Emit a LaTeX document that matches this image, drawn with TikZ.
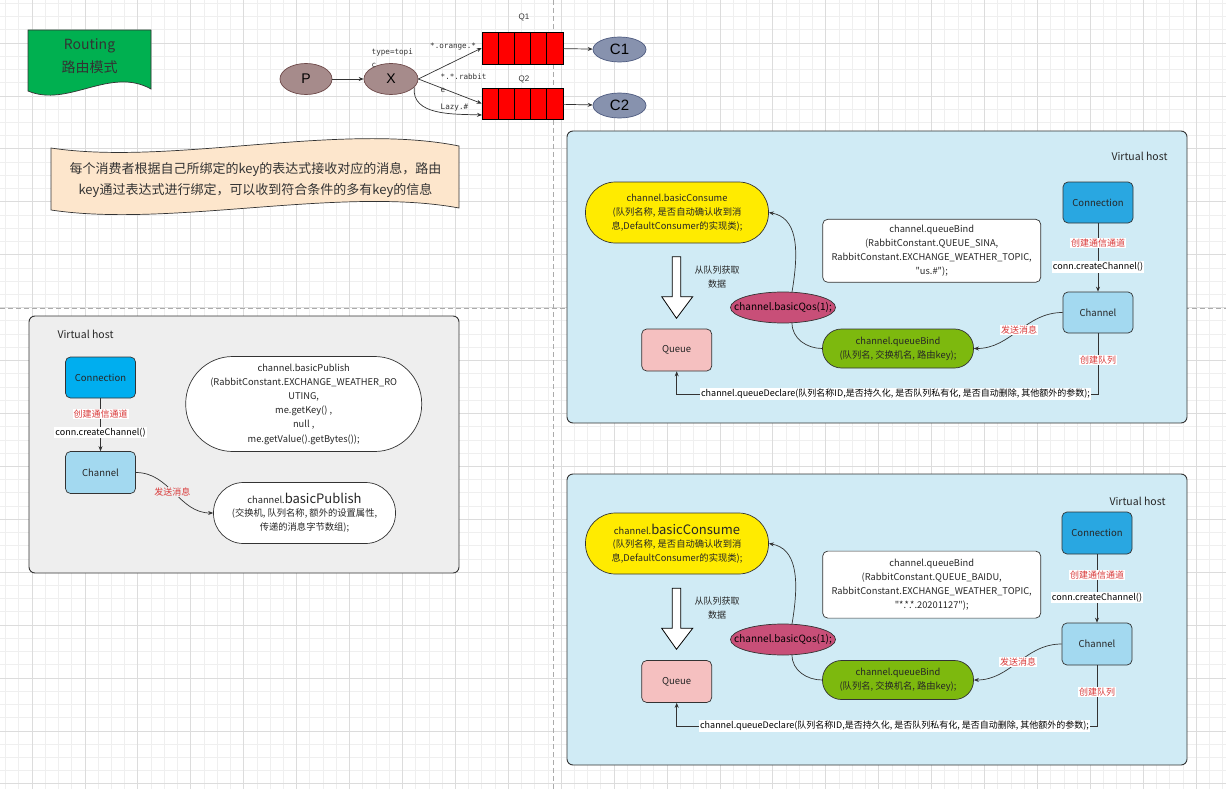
\documentclass[tikz,border=0pt]{standalone}
\usepackage{fontspec}
\setmainfont{Noto Sans CJK SC}
\newfontfamily\arialf{Liberation Sans}
\newfontfamily\monof{DejaVu Sans Mono}
\usetikzlibrary{arrows.meta,shapes.geometric,calc}
\definecolor{gridminor}{HTML}{EFEFEF}
\definecolor{gridmajor}{HTML}{DCDCDC}
\definecolor{dashc}{HTML}{ABABAB}
\definecolor{darkc}{HTML}{333333}
\definecolor{linec}{HTML}{333333}
\definecolor{textc}{HTML}{262626}
\definecolor{flagG}{HTML}{00B050}
\definecolor{tapeC}{HTML}{FDE6CC}
\definecolor{vhGray}{HTML}{EEEEEE}
\definecolor{vhBlue}{HTML}{D0EBF5}
\definecolor{connA}{HTML}{00AEEF}
\definecolor{connB}{HTML}{29A7E1}
\definecolor{chanC}{HTML}{A3D9F0}
\definecolor{queueC}{HTML}{F5C0C0}
\definecolor{yellowC}{HTML}{FFEB00}
\definecolor{greenC}{HTML}{7DB90E}
\definecolor{qosC}{HTML}{C84F78}
\definecolor{redT}{HTML}{D93A3A}
\definecolor{pxC}{HTML}{A68B8B}
\definecolor{pxD}{HTML}{6E4A4A}
\definecolor{cC}{HTML}{8792AE}
\definecolor{cD}{HTML}{4E5B80}
\tikzset{
  arr/.style={draw=linec, line width=0.7pt, -{Stealth[length=5pt,width=4pt]}},
  ln/.style={draw=linec, line width=0.7pt},
  codef/.style={font=\fontsize{9.3}{14.2}\selectfont, align=center, text=textc},
  boxc/.style={draw=darkc, line width=0.7pt, rounded corners=5pt, minimum width=70pt, minimum height=41pt, inner sep=0pt, font=\fontsize{9.5}{12}\selectfont, text=textc},
  stad/.style={draw=darkc, line width=0.7pt, inner sep=0pt, codef},
  redlbl/.style={fill=white, text=redT, font=\fontsize{9}{11}\selectfont, inner sep=1pt},
  wlbl/.style={fill=white, text=black, font=\fontsize{9}{11}\selectfont, inner sep=1pt},
  vhlbl/.style={font=\fontsize{10.5}{12}\selectfont, text=textc},
  vhbox/.style={draw=darkc, line width=0.9pt, rounded corners=6pt},
  smallmono/.style={font=\monof\fontsize{7.6}{12.5}\selectfont, text=darkc, align=left, inner sep=0pt},
  qrect/.style={draw=black, fill=red, line width=0.6pt, minimum width=81pt, minimum height=32pt, inner sep=0pt},
  dnarrow/.style={fill=white, draw=black, line width=0.8pt},
  qostxt/.style={font=\fontsize{10}{12}\selectfont, text=black},
}
\begin{document}
\begin{tikzpicture}[x=1pt,y=-1pt]
\useasboundingbox (0,0) rectangle (1226,789);
\fill[white] (0,0) rectangle (1226,789);
% grid
\foreach \k in {-2,...,90} \draw[gridminor, line width=0.8pt] ({32+\k*13.23},0) -- ({32+\k*13.23},789);
\foreach \k in {-3,...,56} \draw[gridminor, line width=0.8pt] (0,{43+\k*13.23}) -- (1226,{43+\k*13.23});
\foreach \k in {0,...,22} \draw[gridmajor, line width=0.8pt] ({32+\k*52.92},0) -- ({32+\k*52.92},789);
\foreach \k in {0,...,14} \draw[gridmajor, line width=0.8pt] (0,{43+\k*52.92}) -- (1226,{43+\k*52.92});
% page break lines
\draw[dashc, line width=0.8pt, dash pattern=on 5pt off 3pt] (553,0) -- (553,789);
\draw[dashc, line width=0.8pt, dash pattern=on 5pt off 3pt] (0,308) -- (1226,308);

% flag
\filldraw[fill=flagG, draw=darkc, line width=0.7pt] (28,30) -- (151,30) -- (151,89) .. controls (110,66) and (68,108) .. (28,91) -- cycle;
\node[align=center, font=\fontsize{14}{22.5}\selectfont, text=darkc] (flagtxt) at (89.5,56) {Routing\\路由模式};

% P X queues
\node[ellipse, fill=pxC, draw=pxD, line width=0.7pt, minimum width=52pt, minimum height=31pt, inner sep=0pt, font=\arialf\fontsize{14}{14}\selectfont] (P) at (306,79) {P};
\node[ellipse, fill=pxC, draw=pxD, line width=0.7pt, minimum width=54pt, minimum height=31pt, inner sep=0pt, font=\arialf\fontsize{14}{14}\selectfont] (X) at (391,79) {X};
\node[qrect] (Q1box) at (522.5,48) {};
\node[qrect, minimum height=31pt] (Q2box) at (522.5,103.5) {};
\foreach \xx in {498.5,514.5,530.5,546.5} {
  \draw[black, line width=0.6pt] (\xx,32) -- (\xx,64);
  \draw[black, line width=0.6pt] (\xx,88) -- (\xx,119);
}
\node[ellipse, fill=cC, draw=cD, line width=0.7pt, minimum width=53pt, minimum height=25pt, inner sep=0pt, font=\arialf\fontsize{15}{15}\selectfont] (C1) at (619.5,49.5) {C1};
\node[ellipse, fill=cC, draw=cD, line width=0.7pt, minimum width=53pt, minimum height=25pt, inner sep=0pt, font=\arialf\fontsize{15}{15}\selectfont] (C2) at (619.5,105.5) {C2};
\node[font=\arialf\fontsize{8}{8}\selectfont, text=darkc] (q1lbl) at (524,17) {Q1};
\node[font=\arialf\fontsize{8}{8}\selectfont, text=darkc] (q2lbl) at (524,79) {Q2};
\coordinate (q2low) at (482,115);
\draw[arr] (P) -- (X);
\draw[arr] (X.east) -- (Q1box.west);
\draw[arr] (X.east) -- (Q2box.west);
\draw[arr] (X.-20) to[out=-95,in=178] (q2low);
\draw[arr] (Q1box) -- (C1);
\draw[arr] (Q2box) -- (C2);
\node[smallmono, anchor=west] (lorange) at (430,46) {*.orange.*};
\node[smallmono, anchor=north west] (ltype) at (371.5,49) {type=topi\\c};
\node[smallmono, anchor=north west] (lrabbit) at (440.5,74) {*.*.rabbit\\e};
\node[smallmono, anchor=west] (llazy) at (440.5,108) {Lazy.\#};

% tape banner
\filldraw[fill=tapeC, draw=darkc, line width=0.7pt] (51,148) .. controls (170,166) and (340,122) .. (459,146) -- (459,208) .. controls (340,186) and (170,228) .. (51,210) -- cycle;
\node[align=center, font=\fontsize{13}{21.4}\selectfont, text=darkc] (tapetxt) at (255.5,180) {每个消费者根据自己所绑定的key的表达式接收对应的消息，路由\\key通过表达式进行绑定，可以收到符合条件的多有key的信息};

% ---------------- left virtual host
\draw[vhbox, fill=vhGray] (29,316) rectangle (459,573);
\node[vhlbl, anchor=west] (vhLlbl) at (54,334) {Virtual host};
\node[boxc, fill=connA] (connL) at (100.5,377.5) {Connection};
\node[boxc, fill=chanC, minimum height=42pt] (chanL) at (100.5,472.5) {Channel};
\node[stad, fill=white, minimum width=236pt, minimum height=95pt, rounded corners=47pt] (pubA) at (303.7,404) {channel.basicPublish\\(RabbitConstant.EXCHANGE\_WEATHER\_RO\\UTING,\\me.getKey() ,\\null ,\\me.getValue().getBytes());};
\node[stad, fill=white, minimum width=182pt, minimum height=61pt, rounded corners=30pt] (pubB) at (304.5,513) {channel.{\fontsize{13}{14}\selectfont basicPublish}\\[-1pt](交换机, 队列名称, 额外的设置属性,\\传递的消息字节数组);};
\draw[arr] (connL) -- (chanL);
\node[redlbl] (lL1) at (100.5,414.3) {创建通信通道};
\node[wlbl] (lL2) at (100.5,432.3) {conn.createChannel()};
\draw[arr] (chanL.east) to[out=0,in=180] (pubB.west);
\node[redlbl, fill=vhGray] (lL3) at (172.3,492) {发送消息};

% ---------------- top right virtual host
\draw[vhbox, fill=vhBlue] (567,131) rectangle (1187,423);
\node[vhlbl, anchor=east] (vhTlbl) at (1171,156) {Virtual host};
\node[stad, fill=yellowC, minimum width=183pt, minimum height=61pt, rounded corners=30pt] (yellowT) at (677,212.5) {channel.basicConsume\\(队列名称, 是否自动确认收到消\\息,DefaultConsumer的实现类);};
\node[stad, fill=white, minimum width=218pt, minimum height=63pt, rounded corners=5pt] (bindT) at (931.7,250.8) {channel.queueBind\\(RabbitConstant.QUEUE\_SINA,\\RabbitConstant.EXCHANGE\_WEATHER\_TOPIC,\\\textquotedbl{}us.\#\textquotedbl{});};
\node[boxc, fill=connB] (connT) at (1098,202.5) {Connection};
\node[boxc, fill=chanC] (chanT) at (1098,312.5) {Channel};
\node[stad, fill=greenC, minimum width=151pt, minimum height=39pt, rounded corners=19pt] (greenT) at (898,348.5) {channel.queueBind\\(队列名, 交换机名, 路由key);};
\node[boxc, fill=queueC, minimum height=42pt] (queueT) at (676.7,350) {Queue};
\node[ellipse, fill=qosC, draw=darkc, line width=0.7pt, minimum width=105pt, minimum height=31pt, inner sep=0pt] (qosT) at (783,307.5) {};
\node[qostxt] (qosTt) at (qosT) {channel.basicQos(1);};
\fill[dnarrow] (672.3,256.7) -- (680.7,256.7) -- (680.7,296.7) -- (692.7,296.7) -- (676.5,318.3) -- (661.7,296.7) -- (672.3,296.7) -- cycle;
\node[align=center, font=\fontsize{9}{14}\selectfont, text=textc] (fetchT) at (717,277) {从队列获取\\数据};
\draw[arr] (connT) -- (chanT);
\node[redlbl] (lT1) at (1098,243) {创建通信通道};
\node[wlbl] (lT2) at (1098,267) {conn.createChannel()};
\draw[arr] (chanT.west) to[out=180,in=0] (greenT.east);
\node[redlbl] (lT3) at (1019,330) {发送消息};
\draw[ln] (greenT.west) to[out=180,in=-90] (qosT.-60);
\draw[arr] (qosT.60) .. controls +(8,-47) and +(27,5) .. (yellowT.east);
\draw[arr] (chanT.south) -- ++(0,60.8) -| (queueT.south);
\node[redlbl] (lT4) at (1098,360) {创建队列};
\node[wlbl] (lT5) at (895.5,393.8) {channel.queueDeclare(队列名称ID,是否持久化, 是否队列私有化, 是否自动删除, 其他额外的参数);};

% ---------------- bottom right virtual host
\draw[vhbox, fill=vhBlue] (567,474) rectangle (1187,765);
\node[vhlbl, anchor=east] (vhBlbl) at (1169,501) {Virtual host};
\node[stad, fill=yellowC, minimum width=183pt, minimum height=61pt, rounded corners=30pt] (yellowB) at (677,543.5) {channel.{\fontsize{13}{14}\selectfont basicConsume}\\[-1pt](队列名称, 是否自动确认收到消\\息,DefaultConsumer的实现类);};
\node[stad, fill=white, minimum width=218pt, minimum height=67pt, rounded corners=5pt] (bindB) at (931.7,584.6) {channel.queueBind\\(RabbitConstant.QUEUE\_BAIDU,\\RabbitConstant.EXCHANGE\_WEATHER\_TOPIC,\\\textquotedbl{}*.*.*.20201127\textquotedbl{});};
\node[boxc, fill=connB, minimum height=42pt] (connB) at (1097,533) {Connection};
\node[boxc, fill=chanC, minimum height=42pt] (chanB) at (1097,644) {Channel};
\node[stad, fill=greenC, minimum width=151pt, minimum height=39pt, rounded corners=19pt] (greenB) at (898,680) {channel.queueBind\\(队列名, 交换机名, 路由key);};
\node[boxc, fill=queueC, minimum height=42pt] (queueB) at (676.7,681.5) {Queue};
\node[ellipse, fill=qosC, draw=darkc, line width=0.7pt, minimum width=105pt, minimum height=31pt, inner sep=0pt] (qosB) at (783,639.5) {};
\node[qostxt] (qosBt) at (qosB) {channel.basicQos(1);};
\fill[dnarrow] (672.3,588.3) -- (680.7,588.3) -- (680.7,628.3) -- (692.7,628.3) -- (676.5,649.3) -- (661.7,628.3) -- (672.3,628.3) -- cycle;
\node[align=center, font=\fontsize{9}{14}\selectfont, text=textc] (fetchB) at (717,608.5) {从队列获取\\数据};
\draw[arr] (connB) -- (chanB);
\node[redlbl] (lB1) at (1097,575) {创建通信通道};
\node[wlbl] (lB2) at (1097,597.7) {conn.createChannel()};
\draw[arr] (chanB.west) to[out=180,in=0] (greenB.east);
\node[redlbl] (lB3) at (1018,661.7) {发送消息};
\draw[ln] (greenB.west) to[out=180,in=-90] (qosB.-60);
\draw[arr] (qosB.60) .. controls +(8,-47) and +(27,5) .. (yellowB.east);
\draw[arr] (chanB.south) -- ++(0,60.7) -| (queueB.south);
\node[redlbl] (lB4) at (1097,691.7) {创建队列};
\node[wlbl] (lB5) at (894.5,725.7) {channel.queueDeclare(队列名称ID,是否持久化, 是否队列私有化, 是否自动删除, 其他额外的参数);};
\end{tikzpicture}
\end{document}
